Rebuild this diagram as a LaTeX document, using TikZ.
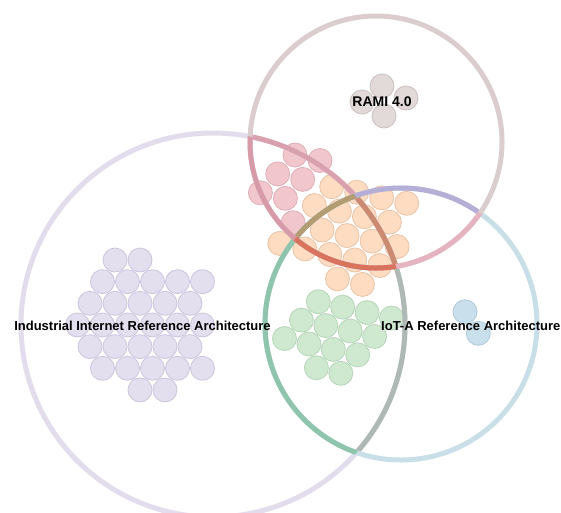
\documentclass[tikz,border=0pt]{standalone}
\usepackage{fontspec}
\setmainfont{Liberation Sans}
\definecolor{rRami}{HTML}{DBCDCD}
\definecolor{rIira}{HTML}{E3DCEC}
\definecolor{rIot}{HTML}{C8DFE8}
\definecolor{rRamiInIira}{HTML}{D69AA8}
\definecolor{rIiraInRami}{HTML}{D9A0AE}
\definecolor{rRamiInIot}{HTML}{E6B3C1}
\definecolor{rIotInRami}{HTML}{B5AED7}
\definecolor{rIotInIira}{HTML}{8FC4AD}
\definecolor{rIiraInIot}{HTML}{AEB9B4}
\definecolor{rRamiTri}{HTML}{D8735E}
\definecolor{rIiraTri}{HTML}{CC8A70}
\definecolor{rIotTri}{HTML}{B49C72}
\definecolor{bLavF}{HTML}{E4DFEF}\definecolor{bLavD}{HTML}{CCC4DD}
\definecolor{bPinkF}{HTML}{F1C6CC}\definecolor{bPinkD}{HTML}{DDB0B6}
\definecolor{bOrF}{HTML}{FDDCC1}\definecolor{bOrD}{HTML}{E9C3A6}
\definecolor{bGrF}{HTML}{CFE9D0}\definecolor{bGrD}{HTML}{B5D5B7}
\definecolor{bGyF}{HTML}{E2D9D9}\definecolor{bGyD}{HTML}{CBBFBF}
\definecolor{bBlF}{HTML}{C9DFEC}\definecolor{bBlD}{HTML}{AFCADB}
\begin{document}
\begin{tikzpicture}[x=1pt,y=-1pt,
  bigring/.style={line width=5pt},
  bub/.style={line width=0.8pt},
  lbl/.style={font=\bfseries\fontsize{13}{13}\selectfont, text=black, inner sep=0pt}]
\fill[white] (0,0) rectangle (561,512);
\useasboundingbox (0,0) rectangle (561,512);
\coordinate (cR) at (376,142);
\coordinate (cA) at (213,325);
\coordinate (cT) at (401,324);
\def\rR{126pt}\def\rA{192pt}\def\rT{136pt}
% lavender cluster
\foreach \x/\y in {115/260,140/260,
  102.5/281.65,127.5/281.65,152.5/281.65,177.5/281.65,202.5/281.65,
  90/303.3,115/303.3,140/303.3,165/303.3,190/303.3,
  77.5/324.95,102.5/324.95,127.5/324.95,152.5/324.95,177.5/324.95,202.5/324.95,
  90/346.6,115/346.6,140/346.6,165/346.6,190/346.6,
  102.5/368.25,127.5/368.25,152.5/368.25,177.5/368.25,202.5/368.25,
  140/389.9,165/389.9}
  \draw[bub, fill=bLavF, draw=bLavD] (\x,\y) circle[radius=12pt];
% green cluster
\foreach \i/\j in {0/0,1/0,2/0,3/0,0/1,1/1,2/1,3/1,0/2,1/2,2/2,3/2,2/3,3/3}
  \draw[bub, fill=bGrF, draw=bGrD] ({318.3+24.4*\i-16.9*\j},{301.7+5.45*\i+18.4*\j}) circle[radius=12pt];
% pink cluster
\foreach \i/\j in {0/0,1/0,0/1,1/1,0/2,1/2,2/3}
  \draw[bub, fill=bPinkF, draw=bPinkD] ({295+25*\i-17.3*\j},{155+5.5*\i+18.9*\j}) circle[radius=12pt];
% orange cluster
\foreach \i/\j in {0/0,1/0,2/0,3/0,0/1,1/1,2/1,3/1,1/2,2/2,3/2,4/2,0/3,1/3,2/3,3/3,4/3,3/4,4/4}
  \draw[bub, fill=bOrF, draw=bOrD] ({331.7+25*\i-17.3*\j},{186.7+5.53*\i+18.9*\j}) circle[radius=12pt];
% RAMI cluster
\foreach \x/\y in {382/86,362/102,406/98,384/116}
  \draw[bub, fill=bGyF, draw=bGyD] (\x,\y) circle[radius=12pt];
% blue cluster
\foreach \x/\y in {465/311.7,478.3/333.3}
  \draw[bub, fill=bBlF, draw=bBlD] (\x,\y) circle[radius=12pt];
% IIRA ring
\draw[bigring, draw=rIira] (cA) circle[radius=\rA];
\begin{scope}\clip (cR) circle[radius=\rR];
  \draw[bigring, draw=rIiraInRami] (cA) circle[radius=\rA];\end{scope}
\begin{scope}\clip (cT) circle[radius=\rT];
  \draw[bigring, draw=rIiraInIot] (cA) circle[radius=\rA];
  \clip (cR) circle[radius=\rR];
  \draw[bigring, draw=rIiraTri] (cA) circle[radius=\rA];\end{scope}
% IoT ring
\draw[bigring, draw=rIot] (cT) circle[radius=\rT];
\begin{scope}\clip (cR) circle[radius=\rR];
  \draw[bigring, draw=rIotInRami] (cT) circle[radius=\rT];\end{scope}
\begin{scope}\clip (cA) circle[radius=\rA];
  \draw[bigring, draw=rIotInIira] (cT) circle[radius=\rT];
  \clip (cR) circle[radius=\rR];
  \draw[bigring, draw=rIotTri] (cT) circle[radius=\rT];\end{scope}
% RAMI ring
\draw[bigring, draw=rRami] (cR) circle[radius=\rR];
\begin{scope}\clip (cA) circle[radius=\rA];
  \draw[bigring, draw=rRamiInIira] (cR) circle[radius=\rR];\end{scope}
\begin{scope}\clip (cT) circle[radius=\rT];
  \draw[bigring, draw=rRamiInIot] (cR) circle[radius=\rR];
  \clip (cA) circle[radius=\rA];
  \draw[bigring, draw=rRamiTri] (cR) circle[radius=\rR];\end{scope}
% labels
\node[lbl, anchor=base] (lIIRA) at (142.5,330) {Industrial Internet Reference Architecture};
\node[lbl, anchor=base west] (lIoT) at (381,330) {IoT-A Reference Architecture};
\node[lbl, anchor=base, font=\bfseries\fontsize{14}{14}\selectfont] (lRAMI) at (382,106.5) {RAMI 4.0};
\end{tikzpicture}
\end{document}
